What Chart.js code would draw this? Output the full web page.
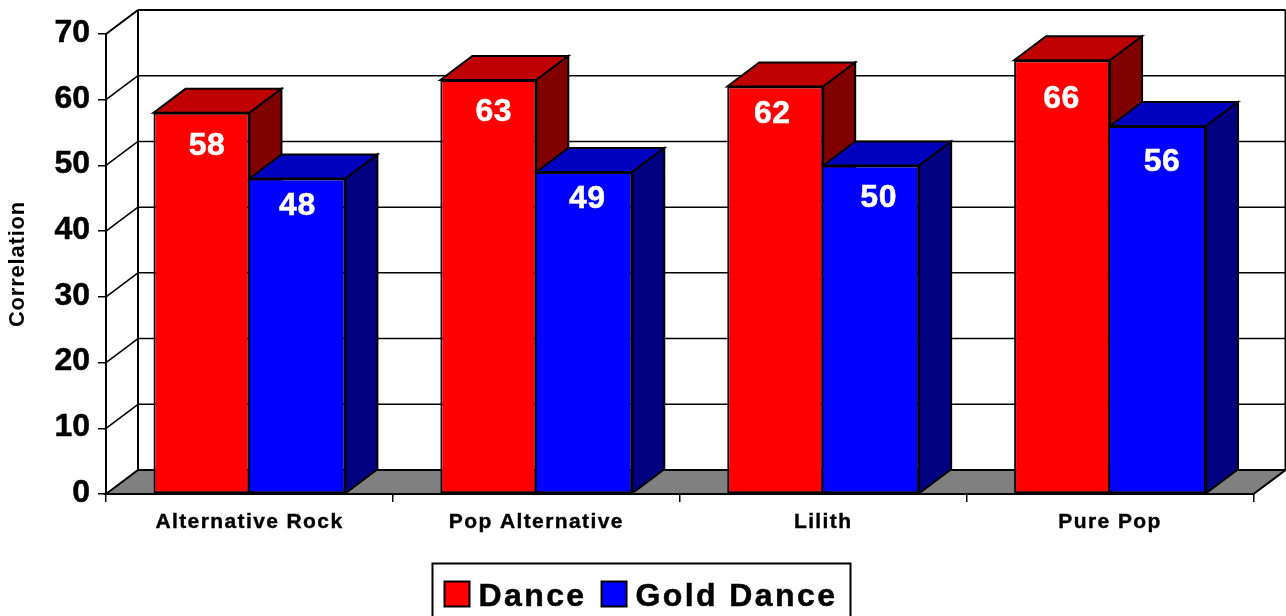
<!DOCTYPE html>
<html>
<head>
<meta charset="utf-8">
<style>html,body{margin:0;padding:0;background:#fff;overflow:hidden}canvas{display:block}</style>
<script src="https://cdn.jsdelivr.net/npm/chart.js@4/dist/chart.umd.min.js"></script>
</head>
<body>
<canvas id="c" width="1286" height="616"></canvas>
<script>
const categories = ["Alternative Rock", "Pop Alternative", "Lilith", "Pure Pop"];
const danceValues = [58, 63, 62, 66];
const goldDanceValues = [48, 49, 50, 56];
const axisTitle = "Correlation";
const FONT = '"Liberation Sans", Arial, sans-serif';
const DEPTH_X = 32, DEPTH_Y = 24;
const styles = [
  {front:"#ff0000", top:"#bf0000", side:"#800000"},
  {front:"#0000ff", top:"#0000bf", side:"#000080"}
];
const labelShiftX = [[5.5, 5.5, -3, -0.5], [0, 3, 7.5, 4]];
const labelShiftY = [[33, 32, 28, 39], [28, 27, 33, 36]];

function poly(ctx, pts, fill, lw) {
  ctx.beginPath();
  pts.forEach((p, i) => i ? ctx.lineTo(p[0], p[1]) : ctx.moveTo(p[0], p[1]));
  ctx.closePath();
  if (fill) { ctx.fillStyle = fill; ctx.fill(); }
  ctx.lineWidth = lw; ctx.strokeStyle = "#000"; ctx.stroke();
}
function line(ctx, x1, y1, x2, y2, lw) {
  ctx.beginPath(); ctx.moveTo(x1, y1); ctx.lineTo(x2, y2);
  ctx.lineWidth = lw; ctx.strokeStyle = "#000"; ctx.stroke();
}
function spaced(fn, owner, spacing, dy) {
  return function (...args) {
    const ctx = owner.ctx;
    ctx.save();
    ctx.letterSpacing = spacing + "px";
    ctx.translate(0, dy);
    fn.apply(owner, args);
    ctx.restore();
  };
}

const scene3d = {
  id: "scene3d",
  beforeDraw(chart) {
    const {x, y} = chart.scales;
    if (!chart.$spaced) {
      chart.$spaced = true;
      y.drawLabels = spaced(y.drawLabels, y, 0, -1);
      y.drawTitle = spaced(y.drawTitle, y, 0.8, 0);
      x.drawLabels = spaced(x.drawLabels, x, 1.4, -1);
    }
  },
  beforeDatasetsDraw(chart) {
    const ctx = chart.ctx, {x, y} = chart.scales, a = chart.chartArea;
    ctx.save();
    const bx = a.left + DEPTH_X, rx = a.right + DEPTH_X;
    const floorY = a.bottom - DEPTH_Y;
    poly(ctx, [[a.left, a.bottom], [bx, floorY], [rx, floorY], [a.right, a.bottom]], "#808080", 2);
    y.ticks.forEach(t => {
      const py = y.getPixelForValue(t.value), by = py - DEPTH_Y;
      if (t.value > 0) {
        const lw = t.value === y.max ? 2 : 1.5;
        line(ctx, bx, by, rx, by, lw);
        line(ctx, a.left, py, bx, by, lw);
      }
    });
    line(ctx, bx, y.getPixelForValue(y.max) - DEPTH_Y, bx, floorY, 2);
    line(ctx, rx, y.getPixelForValue(y.max) - DEPTH_Y, rx, floorY, 2);
    chart.data.datasets.forEach((ds, di) => {
      const st = styles[di];
      chart.getDatasetMeta(di).data.forEach(b => {
        const p = b.getProps(["x", "y", "base", "width"], true);
        const l = p.x - p.width / 2, r = p.x + p.width / 2;
        poly(ctx, [[l, p.y], [l + DEPTH_X, p.y - DEPTH_Y], [r + DEPTH_X, p.y - DEPTH_Y], [r, p.y]], st.top, 2);
        poly(ctx, [[r, p.y], [r + DEPTH_X, p.y - DEPTH_Y], [r + DEPTH_X, p.base - DEPTH_Y], [r, p.base]], st.side, 2);
      });
    });
    ctx.restore();
  },
  afterDatasetsDraw(chart) {
    const ctx = chart.ctx;
    ctx.save();
    ctx.font = "bold 32px " + FONT;
    ctx.fillStyle = "#fff";
    ctx.strokeStyle = "#fff";
    ctx.lineWidth = 0.5;
    ctx.textAlign = "center";
    ctx.textBaseline = "middle";
    ctx.letterSpacing = "0.5px";
    chart.data.datasets.forEach((ds, di) => {
      chart.getDatasetMeta(di).data.forEach((b, i) => {
        const p = b.getProps(["x", "y"], true);
        const tx = p.x + labelShiftX[di][i], ty = p.y + labelShiftY[di][i];
        ctx.fillText(String(ds.data[i]), tx, ty);
        ctx.strokeText(String(ds.data[i]), tx, ty);
      });
    });
    ctx.lineWidth = 2;
    ctx.strokeStyle = "#000";
    ctx.strokeRect(432.5, 563.5, 418, 70);
    ctx.font = "bold 32px " + FONT;
    ctx.textAlign = "left";
    ctx.textBaseline = "alphabetic";
    ctx.letterSpacing = "2.4px";
    let lx = 444.5;
    chart.data.datasets.forEach(ds => {
      ctx.fillStyle = ds.backgroundColor;
      ctx.lineWidth = 2;
      ctx.fillRect(lx, 581.5, 25, 25);
      ctx.strokeRect(lx, 581.5, 25, 25);
      ctx.fillStyle = "#000";
      ctx.lineWidth = 0.5;
      ctx.fillText(ds.label, lx + 34, 606);
      ctx.strokeText(ds.label, lx + 34, 606);
      lx += 34 + ctx.measureText(ds.label).width + 15;
    });
    ctx.restore();
  }
};

new Chart(document.getElementById("c"), {
  type: "bar",
  data: {
    labels: categories,
    datasets: [
      {label: "Dance", data: danceValues, backgroundColor: styles[0].front, borderColor: "#000",
       borderWidth: {top: 2, left: 2, right: 2, bottom: 2}, borderSkipped: false},
      {label: "Gold Dance", data: goldDanceValues, backgroundColor: styles[1].front, borderColor: "#000",
       borderWidth: {top: 2, left: 0, right: 2, bottom: 2}, borderSkipped: false}
    ]
  },
  options: {
    responsive: false,
    animation: false,
    events: [],
    layout: {autoPadding: false, padding: {top: 34, right: 32.5, left: 0, bottom: 0}},
    datasets: {bar: {categoryPercentage: 0.669, barPercentage: 1}},
    plugins: {legend: {display: false}, title: {display: false}, tooltip: {enabled: false}},
    scales: {
      x: {
        afterFit(s) { s.height = 122; },
        grid: {drawOnChartArea: false, color: "#000", tickLength: 8, lineWidth: 1.5, tickColor: "#000"},
        border: {color: "#000", width: 2},
        ticks: {color: "#000", padding: 9, maxRotation: 0, autoSkip: false, textStrokeWidth: 0.4, textStrokeColor: "#000",
                font: {family: FONT, size: 21, weight: "bold"}}
      },
      y: {
        min: 0, max: 70,
        afterFit(s) { s.width = 106; },
        grid: {drawOnChartArea: false, color: "#000", tickLength: 8, lineWidth: 1.5, tickColor: "#000"},
        border: {color: "#000", width: 2},
        ticks: {stepSize: 10, color: "#000", padding: 8, textStrokeWidth: 0.5, textStrokeColor: "#000",
                font: {family: FONT, size: 32, weight: "bold"}},
        title: {display: true, text: axisTitle, color: "#000", padding: {top: 5, bottom: 0},
                font: {family: FONT, size: 22, weight: "bold"}}
      }
    }
  },
  plugins: [scene3d]
});
</script>
</body>
</html>
